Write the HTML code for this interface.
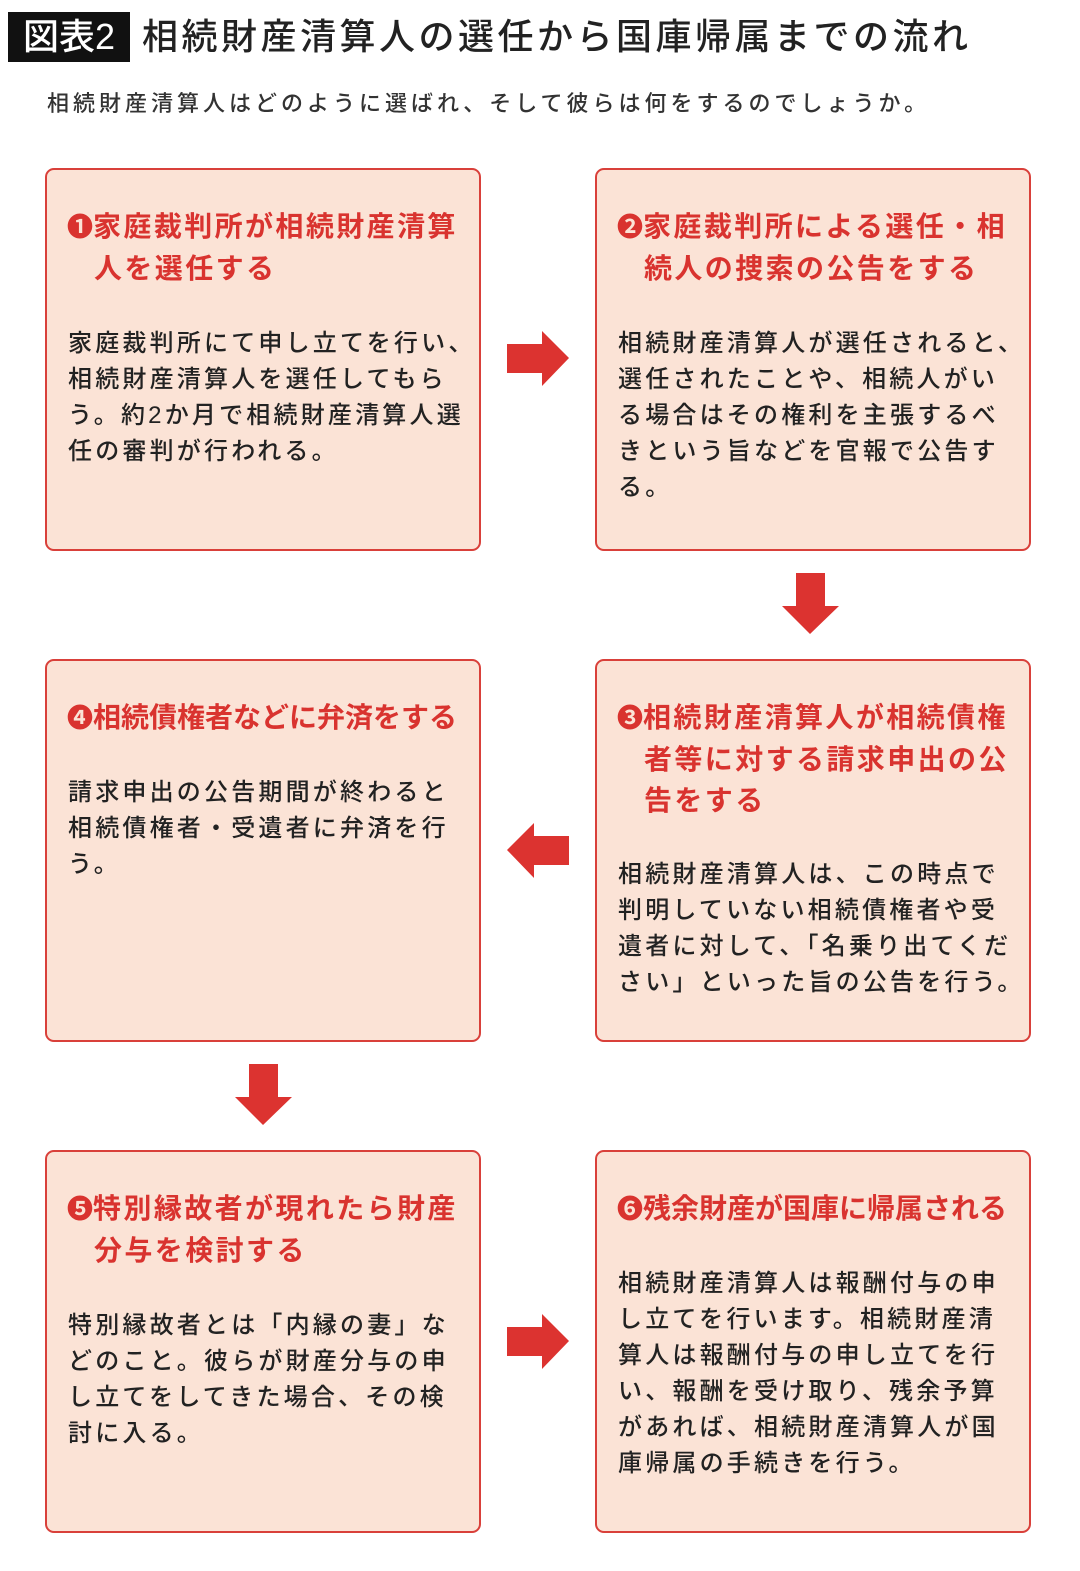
<!DOCTYPE html>
<html><head><meta charset="utf-8"><style>
body{margin:0;width:1080px;height:1571px;background:#fff;position:relative;font-family:"Liberation Sans","Noto Sans CJK JP",sans-serif;overflow:hidden}
.tag{position:absolute;left:8px;top:12px;width:122px;height:50px;background:#111;color:#fff;font-size:36px;font-weight:500;line-height:50px;text-align:center}
.title{position:absolute;left:142px;top:12px;font-size:36px;line-height:50px;color:#222;letter-spacing:3.5px;white-space:nowrap;font-weight:500}
.sub{position:absolute;left:47px;top:88px;font-size:22px;line-height:32px;color:#333;letter-spacing:4px;white-space:nowrap;font-weight:500}
.box{position:absolute;width:436px;height:383px;border:2px solid #d9403a;border-radius:9px;background:#fbe3d6;box-sizing:border-box}
.h{position:absolute;left:20px;top:36px;color:#d9332f;font-weight:bold;font-size:28px;line-height:41px;letter-spacing:2.4px;white-space:nowrap}
.h .i{display:block;padding-left:27px}
.h.t{letter-spacing:0}
.h .n{font-size:26px;letter-spacing:0}
.b{position:absolute;left:21px;color:#222;font-size:24px;line-height:36px;letter-spacing:3.2px;white-space:nowrap;font-weight:500}
svg{position:absolute}
</style></head><body>
<div class="tag">図表2</div>
<div class="title">相続財産清算人の選任から国庫帰属までの流れ</div>
<div class="sub">相続財産清算人はどのように選ばれ、そして彼らは何をするのでしょうか。</div>

<div class="box" style="left:45px;top:168px">
<div class="h"><span class="n">❶</span>家庭裁判所が相続財産清算<span class="i">人を選任する</span></div>
<div class="b" style="top:156px">家庭裁判所にて申し立てを行い、<br>相続財産清算人を選任してもら<br>う。約2か月で相続財産清算人選<br>任の審判が行われる。</div>
</div>
<div class="box" style="left:595px;top:168px">
<div class="h"><span class="n">❷</span>家庭裁判所による選任・相<span class="i">続人の捜索の公告をする</span></div>
<div class="b" style="top:156px">相続財産清算人が選任されると、<br>選任されたことや、相続人がい<br>る場合はその権利を主張するべ<br>きという旨などを官報で公告す<br>る。</div>
</div>
<div class="box" style="left:45px;top:659px">
<div class="h t"><span class="n">❹</span>相続債権者などに弁済をする</div>
<div class="b" style="top:114px">請求申出の公告期間が終わると<br>相続債権者・受遺者に弁済を行<br>う。</div>
</div>
<div class="box" style="left:595px;top:659px">
<div class="h"><span class="n">❸</span>相続財産清算人が相続債権<span class="i">者等に対する請求申出の公</span><span class="i">告をする</span></div>
<div class="b" style="top:196px">相続財産清算人は、この時点で<br>判明していない相続債権者や受<br>遺者に対して、「名乗り出てくだ<br>さい」といった旨の公告を行う。</div>
</div>
<div class="box" style="left:45px;top:1150px">
<div class="h"><span class="n">❺</span>特別縁故者が現れたら財産<span class="i">分与を検討する</span></div>
<div class="b" style="top:156px">特別縁故者とは「内縁の妻」な<br>どのこと。彼らが財産分与の申<br>し立てをしてきた場合、その検<br>討に入る。</div>
</div>
<div class="box" style="left:595px;top:1150px">
<div class="h t"><span class="n">❻</span>残余財産が国庫に帰属される</div>
<div class="b" style="top:114px">相続財産清算人は報酬付与の申<br>し立てを行います。相続財産清<br>算人は報酬付与の申し立てを行<br>い、報酬を受け取り、残余予算<br>があれば、相続財産清算人が国<br>庫帰属の手続きを行う。</div>
</div>

<svg style="left:0;top:0" width="1080" height="1571">
<g fill="#dc3330">
<polygon points="507,344 542,344 542,331 569,358 542,386 542,373 507,373"/>
<polygon points="507,1327 542,1327 542,1314 569,1341 542,1369 542,1356 507,1356"/>
<polygon points="569,836 534,836 534,823 507,850 534,878 534,865 569,865"/>
<polygon points="796,573 825,573 825,606 839,606 810,634 782,606 796,606"/>
<polygon points="249,1064 278,1064 278,1097 292,1097 263,1125 235,1097 249,1097"/>
</g>
</svg>
</body></html>
